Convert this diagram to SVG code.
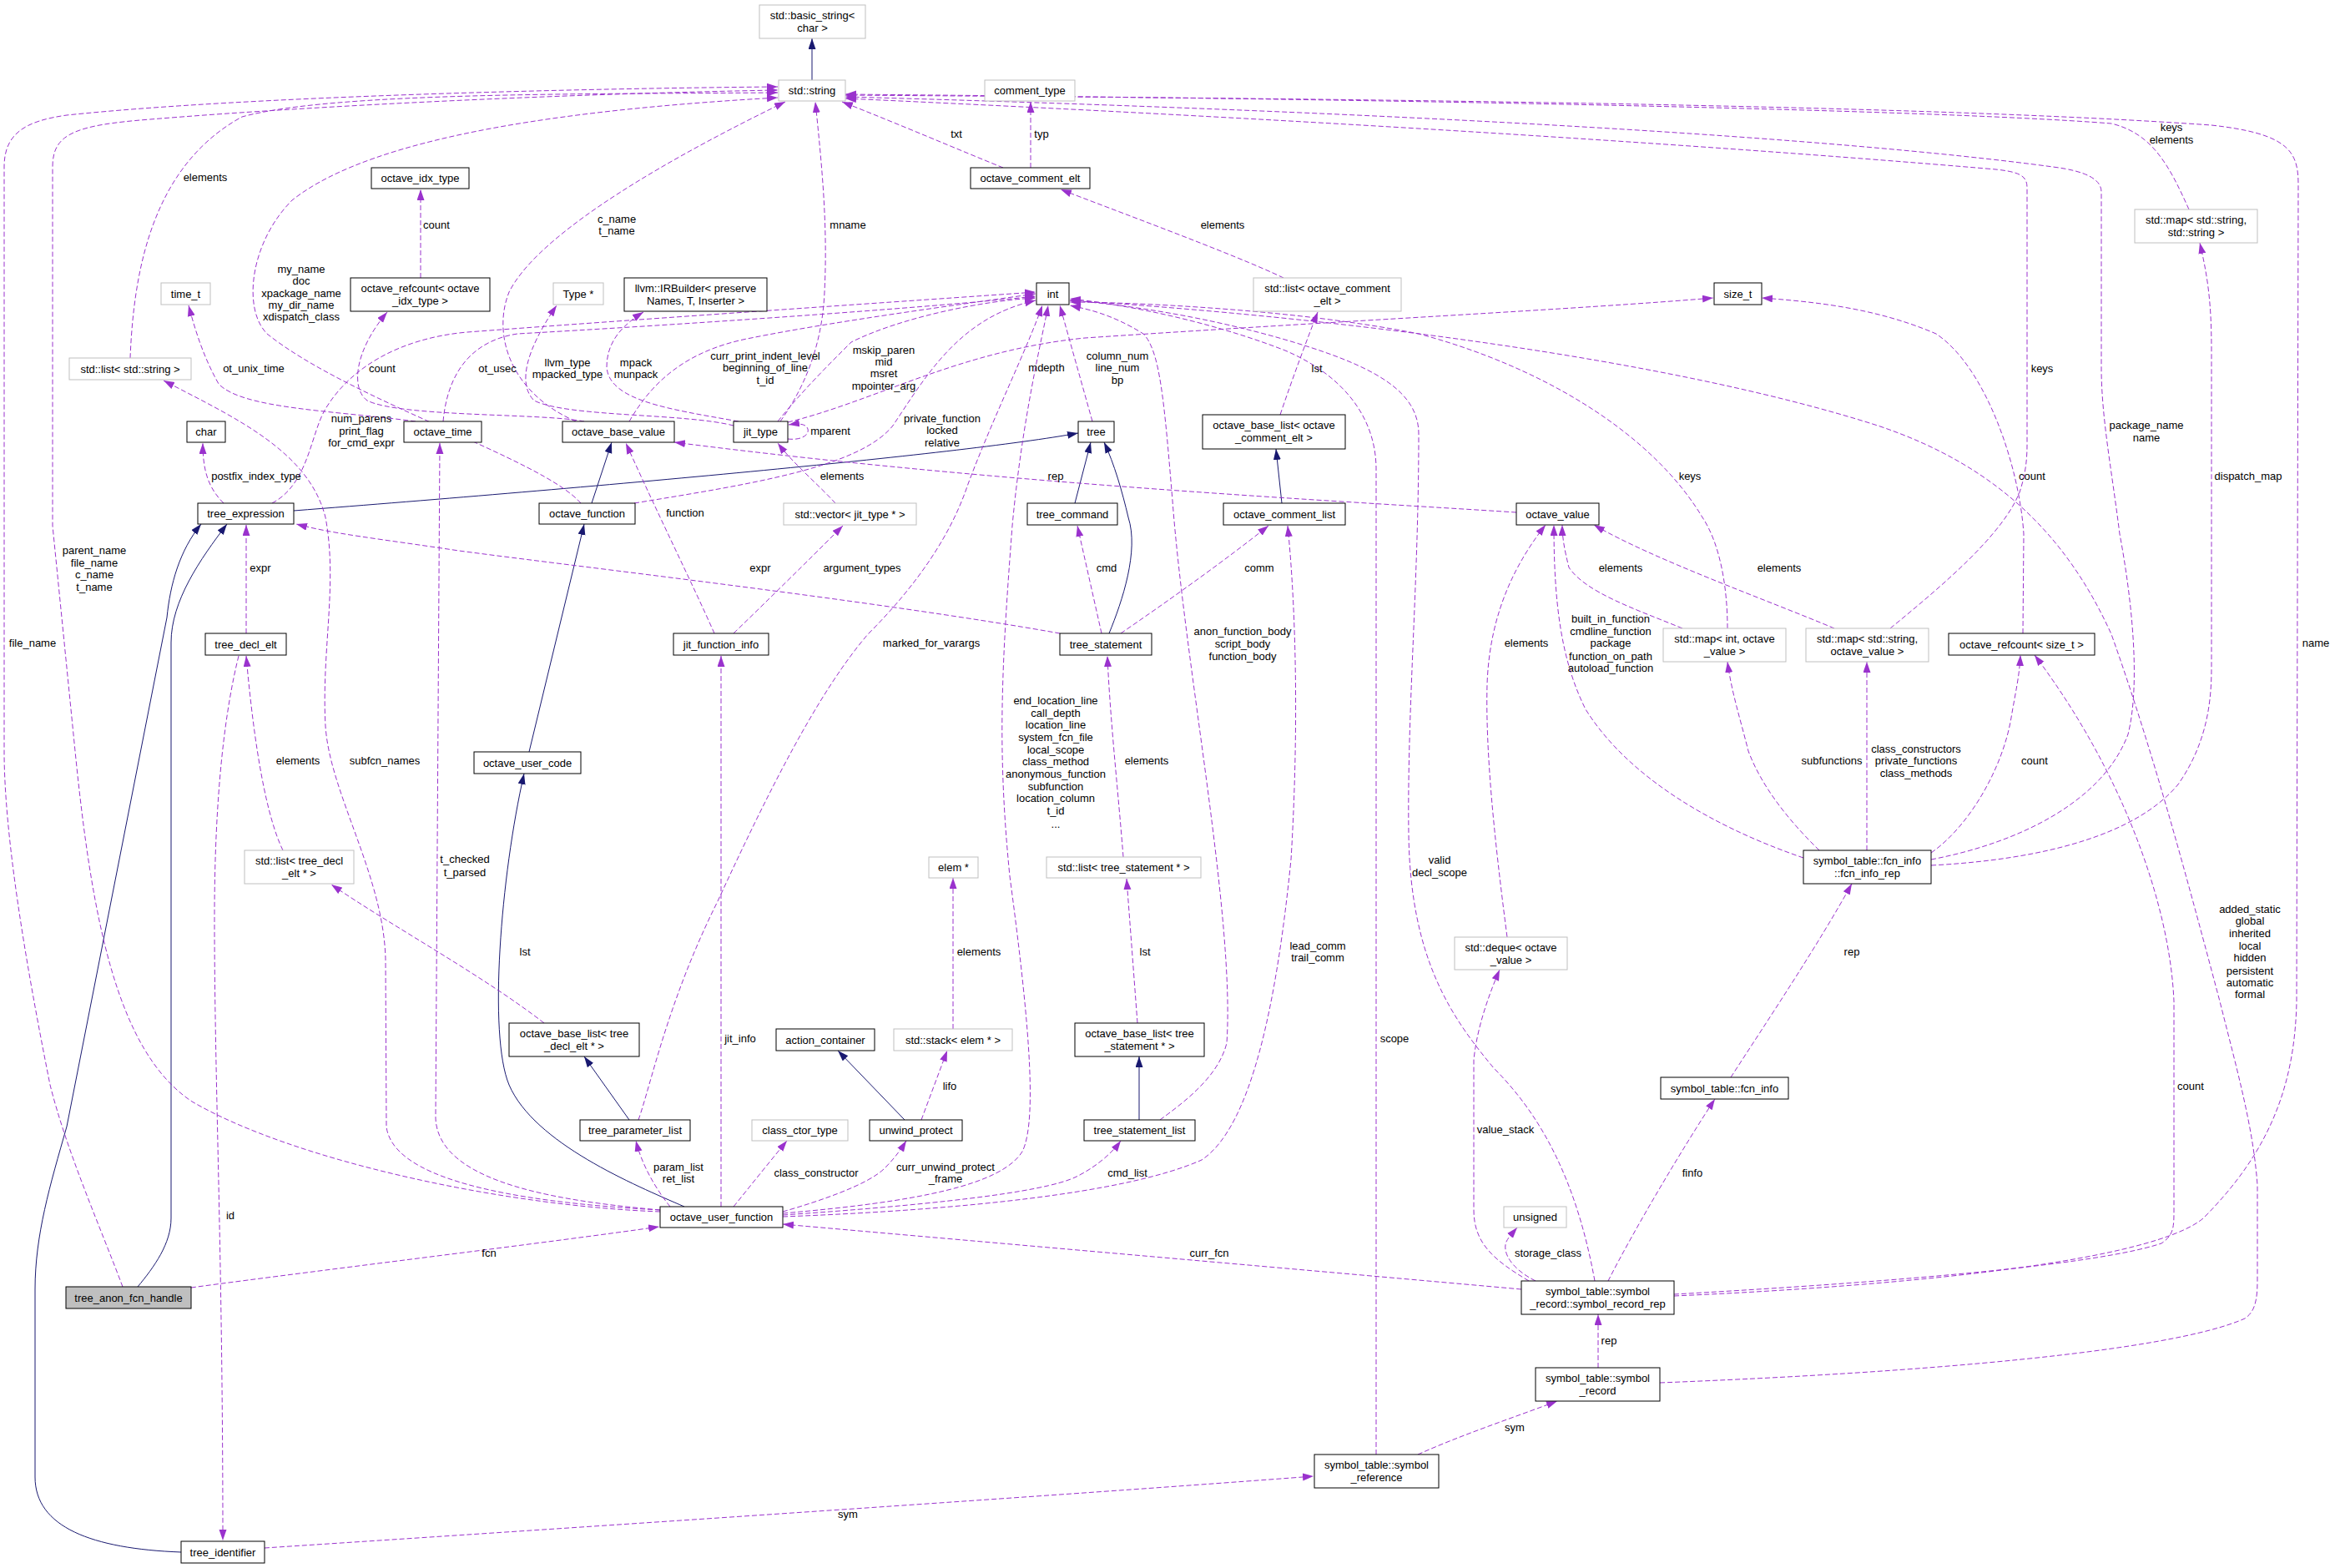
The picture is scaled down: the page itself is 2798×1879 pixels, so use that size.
<svg xmlns="http://www.w3.org/2000/svg" width="2798" height="1879" viewBox="0 0 2798 1879">
<style>
.node rect{fill:#fff;stroke:#000;stroke-width:1}
.node.u rect{stroke:#bfbfbf}
.node.h rect{fill:#bfbfbf}
text{font-family:"Liberation Sans",Arial,sans-serif;font-size:13px;fill:#000}
.node text{text-anchor:middle}
.lbl text{text-anchor:middle}
.i{fill:none;stroke:#191970;stroke-width:1}
.d{fill:none;stroke:#9a32cd;stroke-width:1;stroke-dasharray:6,3}
</style>
<defs>
<marker id="an" markerUnits="userSpaceOnUse" markerWidth="14" markerHeight="10" refX="13" refY="4.5" orient="auto"><path d="M0,0 L13,4.5 L0,9 z" fill="#191970"/></marker>
<marker id="ap" markerUnits="userSpaceOnUse" markerWidth="14" markerHeight="10" refX="13" refY="4.5" orient="auto"><path d="M0,0 L13,4.5 L0,9 z" fill="#9a32cd"/></marker>
</defs>
<rect width="2798" height="1879" fill="#fff"/>
<g id="edges">
<g marker-end="url(#an)">
<path class="i" d="M973,96 L973,46"/>
<path class="i" d="M352,612 C700,585 1150,545 1292,519"/>
<path class="i" d="M709,603 L733,530"/>
<path class="i" d="M634,901 L700,628"/>
<path class="i" d="M820,1446 C760,1420 640,1370 610,1300 C585,1240 600,1050 628,927"/>
<path class="i" d="M1288,603 L1307,530"/>
<path class="i" d="M1329,759 C1345,720 1365,660 1352,620 C1345,590 1335,555 1323,530"/>
<path class="i" d="M1536,603 L1529,538"/>
<path class="i" d="M754,1342 L700,1266"/>
<path class="i" d="M1084,1342 L1004,1259"/>
<path class="i" d="M1365,1342 L1365,1266"/>
<path class="i" d="M165,1542 C185,1518 205,1490 205,1460 L205,770 C205,720 240,670 272,628"/>
<path class="i" d="M217,1860 C110,1856 42,1830 42,1770 L42,1545 C42,1480 60,1420 80,1350 L200,740 C204,700 215,660 241,628"/>
</g>
<g marker-end="url(#ap)">
<path class="d" d="M156,429 C160,330 180,200 290,140 C400,110 700,113 932,111"/>
<path class="d" d="M696,603 C650,550 420,480 320,400 C290,370 300,290 350,240 C450,160 700,130 932,117"/>
<path class="d" d="M791,1452 C600,1445 350,1390 230,1320 C140,1260 110,1100 90,900 L63,630 L63,200 C63,160 90,150 180,143 C400,125 700,112 932,108"/>
<path class="d" d="M147,1542 C120,1470 80,1380 60,1300 C30,1150 5,1000 5,900 L5,200 C5,160 30,145 80,138 C300,115 700,106 932,104"/>
<path class="d" d="M690,505 C610,470 590,400 610,350 C640,290 760,210 941,122"/>
<path class="d" d="M935,505 C960,470 985,420 988,350 C992,270 985,200 977,122"/>
<path class="d" d="M1202,201 C1150,180 1080,150 1009,122"/>
<path class="d" d="M1235,201 L1235,122"/>
<path class="d" d="M1538,333 C1480,305 1330,250 1271,227"/>
<path class="d" d="M1534,497 C1550,450 1565,410 1579,374"/>
<path class="d" d="M504,333 L504,227"/>
<path class="d" d="M700,505 C650,495 480,500 440,480 C420,465 425,420 464,374"/>
<path class="d" d="M498,505 C400,492 290,490 262,460 C245,430 235,400 226,366"/>
<path class="d" d="M531,505 C535,460 555,410 620,400 C800,390 1100,370 1241,355"/>
<path class="d" d="M791,1450 C680,1440 525,1420 522,1340 L527,531"/>
<path class="d" d="M268,603 C250,585 243,565 243,531"/>
<path class="d" d="M326,603 C370,580 372,520 390,490 C420,440 480,405 560,398 C800,380 1100,360 1241,350"/>
<path class="d" d="M879,510 C820,495 680,500 640,480 C620,460 630,420 667,366"/>
<path class="d" d="M885,505 C800,490 730,480 727,440 C727,410 745,390 771,374"/>
<path class="d" d="M754,505 C780,460 820,420 900,405 C1000,385 1150,365 1241,352"/>
<path class="d" d="M932,505 C960,470 990,440 1020,410 C1080,380 1180,360 1241,357"/>
<path class="d" d="M944,526 C962,528 970,520 968,514 C966,508 958,507 945,509"/>
<path class="d" d="M1001,603 C980,580 950,555 932,531"/>
<path class="d" d="M856,759 C830,700 790,620 750,531"/>
<path class="d" d="M879,759 C940,700 990,650 1010,630"/>
<path class="d" d="M1270,759 C1050,720 700,680 550,660 C450,645 400,640 355,628"/>
<path class="d" d="M760,603 C900,580 1030,560 1070,510 C1110,450 1150,380 1241,360"/>
<path class="d" d="M1817,614 C1600,600 1200,580 808,530"/>
<path class="d" d="M1309,505 L1270,366"/>
<path class="d" d="M944,506 C1050,480 1150,420 1300,405 C1600,385 1900,370 2053,357"/>
<path class="d" d="M1320,759 L1291,630"/>
<path class="d" d="M1343,759 C1400,720 1470,670 1520,630"/>
<path class="d" d="M1346,1027 C1340,950 1330,860 1327,786"/>
<path class="d" d="M1363,1226 L1350,1053"/>
<path class="d" d="M1390,1342 C1420,1320 1460,1290 1470,1250 C1480,1100 1420,800 1405,600 C1395,480 1390,420 1370,400 C1330,375 1300,370 1282,366"/>
<path class="d" d="M938,1458 C1150,1450 1350,1430 1440,1390 C1500,1350 1530,1200 1547,1030 C1555,900 1555,750 1543,630"/>
<path class="d" d="M652,1226 C580,1170 470,1110 397,1060"/>
<path class="d" d="M339,1019 C320,980 305,900 295,786"/>
<path class="d" d="M295,759 L295,629"/>
<path class="d" d="M286,786 C270,850 257,950 257,1100 C257,1300 267,1500 267,1846"/>
<path class="d" d="M791,1450 C600,1440 470,1410 463,1350 L462,1150 C460,1050 395,950 390,870 C385,780 405,700 390,620 C370,540 280,500 196,456"/>
<path class="d" d="M229,1543 C400,1520 650,1490 790,1470"/>
<path class="d" d="M864,1446 L864,786"/>
<path class="d" d="M803,1446 C790,1430 770,1400 762,1367"/>
<path class="d" d="M879,1446 C900,1420 920,1395 943,1367"/>
<path class="d" d="M938,1452 C980,1440 1040,1420 1060,1400 C1070,1390 1078,1380 1086,1367"/>
<path class="d" d="M1104,1342 L1135,1259"/>
<path class="d" d="M1142,1233 L1142,1052"/>
<path class="d" d="M938,1454 C1100,1440 1200,1420 1225,1380 C1245,1340 1230,1200 1210,1050 C1195,900 1200,800 1213,630 C1225,500 1250,400 1256,366"/>
<path class="d" d="M938,1456 C1100,1445 1250,1430 1290,1410 C1310,1400 1330,1385 1343,1367"/>
<path class="d" d="M765,1342 C780,1300 800,1200 860,1080 C920,950 980,830 1040,760 C1100,700 1140,640 1160,580 C1190,500 1230,420 1249,366"/>
<path class="d" d="M1823,1545 C1600,1525 1200,1490 938,1467"/>
<path class="d" d="M1832,1535 C1790,1510 1766,1490 1766,1450 L1766,1270 C1770,1230 1785,1190 1797,1162"/>
<path class="d" d="M1806,1123 C1790,1000 1780,900 1782,820 C1785,730 1820,670 1852,629"/>
<path class="d" d="M1840,1535 C1810,1520 1800,1500 1805,1488 C1808,1482 1812,1478 1818,1471"/>
<path class="d" d="M1911,1535 C1890,1420 1850,1340 1790,1280 C1740,1220 1690,1150 1688,1000 C1686,850 1700,700 1700,520 C1700,470 1650,440 1550,410 C1450,380 1350,365 1282,360"/>
<path class="d" d="M1649,1743 L1649,560 C1648,500 1610,450 1540,420 C1450,385 1350,365 1282,358"/>
<path class="d" d="M1927,1535 C1960,1470 2020,1370 2055,1317"/>
<path class="d" d="M2074,1291 C2120,1220 2180,1130 2219,1059"/>
<path class="d" d="M1915,1639 L1915,1575"/>
<path class="d" d="M1699,1743 C1750,1720 1810,1700 1866,1679"/>
<path class="d" d="M317,1855 C700,1830 1300,1790 1574,1769"/>
<path class="d" d="M2070,753 C2070,700 2060,650 2040,620 C1980,520 1850,440 1700,400 C1550,370 1350,362 1282,362"/>
<path class="d" d="M2016,753 C1960,730 1900,710 1880,680 C1875,660 1872,645 1872,629"/>
<path class="d" d="M2198,753 C2120,720 1980,670 1910,629"/>
<path class="d" d="M2265,753 C2330,700 2400,640 2420,590 C2430,560 2429,540 2429,520 L2429,225 C2429,210 2420,205 2380,202 C2000,170 1500,140 1013,118"/>
<path class="d" d="M2424,759 L2425,640 C2420,560 2380,440 2320,400 C2250,370 2180,362 2111,357"/>
<path class="d" d="M2314,1022 C2360,990 2400,920 2410,860 C2415,830 2420,810 2421,785"/>
<path class="d" d="M2006,1551 C2200,1540 2500,1520 2590,1490 C2605,1480 2605,1470 2605,1450 L2605,1200 C2600,1080 2540,920 2438,785"/>
<path class="d" d="M2006,1553 C2300,1540 2580,1510 2640,1460 C2720,1380 2750,1300 2752,1200 L2754,220 C2754,180 2740,160 2650,150 C2300,125 1600,118 1013,114"/>
<path class="d" d="M2314,1030 C2420,1010 2520,960 2550,880 C2565,820 2555,720 2540,640 C2530,560 2518,500 2518,440 L2518,230 C2518,215 2500,205 2460,200 C2200,165 1700,135 1013,116"/>
<path class="d" d="M2314,1037 C2450,1030 2560,1000 2610,940 C2645,890 2650,840 2650,800 L2650,420 C2650,360 2645,330 2636,291"/>
<path class="d" d="M2623,251 C2600,200 2580,160 2530,148 C2300,130 1600,118 1013,113"/>
<path class="d" d="M2180,1019 C2140,980 2110,940 2095,900 C2085,860 2075,830 2070,793"/>
<path class="d" d="M2237,1019 L2237,793"/>
<path class="d" d="M2161,1028 C2050,990 1950,930 1900,850 C1870,790 1862,720 1862,629"/>
<path class="d" d="M1989,1657 C2300,1645 2600,1620 2690,1580 C2705,1570 2705,1550 2705,1530 L2705,1420 C2700,1350 2680,1280 2660,1200 C2620,1050 2580,900 2530,760 C2480,650 2400,560 2250,510 C2000,430 1600,380 1282,360"/>
</g>
<g class="lbl">
<text x="246" y="217">elements</text>
<text x="361" y="327">my_name</text><text x="361" y="341">doc</text><text x="361" y="356">xpackage_name</text><text x="361" y="370">my_dir_name</text><text x="361" y="384">xdispatch_class</text>
<text x="113" y="664">parent_name</text><text x="113" y="679">file_name</text><text x="113" y="693">c_name</text><text x="113" y="708">t_name</text>
<text x="39" y="775">file_name</text>
<text x="739" y="267">c_name</text><text x="739" y="281">t_name</text>
<text x="1016" y="274">mname</text>
<text x="1146" y="165">txt</text>
<text x="1248" y="165">typ</text>
<text x="1465" y="274">elements</text>
<text x="1578" y="446">lst</text>
<text x="523" y="274">count</text>
<text x="458" y="446">count</text>
<text x="304" y="446">ot_unix_time</text>
<text x="596" y="446">ot_usec</text>
<text x="557" y="1034">t_checked</text><text x="557" y="1050">t_parsed</text>
<text x="307" y="575">postfix_index_type</text>
<text x="433" y="506">num_parens</text><text x="433" y="521">print_flag</text><text x="433" y="535">for_cmd_expr</text>
<text x="680" y="439">llvm_type</text><text x="680" y="453">mpacked_type</text>
<text x="762" y="439">mpack</text><text x="762" y="453">munpack</text>
<text x="917" y="431">curr_print_indent_level</text><text x="917" y="445">beginning_of_line</text><text x="917" y="460">t_id</text>
<text x="1059" y="424">mskip_paren</text><text x="1059" y="438">mid</text><text x="1059" y="452">msret</text><text x="1059" y="467">mpointer_arg</text>
<text x="995" y="521">mparent</text>
<text x="1009" y="575">elements</text>
<text x="821" y="619">function</text>
<text x="1033" y="685">argument_types</text>
<text x="911" y="685">expr</text>
<text x="1129" y="506">private_function</text><text x="1129" y="520">locked</text><text x="1129" y="535">relative</text>
<text x="1265" y="575">rep</text>
<text x="1339" y="431">column_num</text><text x="1339" y="445">line_num</text><text x="1339" y="460">bp</text>
<text x="1254" y="445">mdepth</text>
<text x="1326" y="685">cmd</text>
<text x="1509" y="685">comm</text>
<text x="1374" y="916">elements</text>
<text x="1372" y="1145">lst</text>
<text x="1489" y="761">anon_function_body</text><text x="1489" y="776">script_body</text><text x="1489" y="791">function_body</text>
<text x="1579" y="1138">lead_comm</text><text x="1579" y="1152">trail_comm</text>
<text x="629" y="1145">lst</text>
<text x="357" y="916">elements</text>
<text x="312" y="685">expr</text>
<text x="276" y="1461">id</text>
<text x="461" y="916">subfcn_names</text>
<text x="586" y="1506">fcn</text>
<text x="887" y="1249">jit_info</text>
<text x="813" y="1403">param_list</text><text x="813" y="1417">ret_list</text>
<text x="978" y="1410">class_constructor</text>
<text x="1133" y="1403">curr_unwind_protect</text><text x="1133" y="1417">_frame</text>
<text x="1138" y="1306">lifo</text>
<text x="1173" y="1145">elements</text>
<text x="1265" y="844">end_location_line</text><text x="1265" y="859">call_depth</text><text x="1265" y="873">location_line</text><text x="1265" y="888">system_fcn_file</text><text x="1265" y="903">local_scope</text><text x="1265" y="917">class_method</text><text x="1265" y="932">anonymous_function</text><text x="1265" y="947">subfunction</text><text x="1265" y="961">location_column</text><text x="1265" y="976">t_id</text><text x="1265" y="992">...</text>
<text x="1351" y="1410">cmd_list</text>
<text x="1116" y="775">marked_for_varargs</text>
<text x="1449" y="1506">curr_fcn</text>
<text x="1804" y="1358">value_stack</text>
<text x="1829" y="775">elements</text>
<text x="1855" y="1506">storage_class</text>
<text x="1725" y="1035">valid</text><text x="1725" y="1050">decl_scope</text>
<text x="1671" y="1249">scope</text>
<text x="2028" y="1410">finfo</text>
<text x="2219" y="1145">rep</text>
<text x="1928" y="1611">rep</text>
<text x="1815" y="1715">sym</text>
<text x="1016" y="1819">sym</text>
<text x="2025" y="575">keys</text>
<text x="1942" y="685">elements</text>
<text x="2132" y="685">elements</text>
<text x="2447" y="446">keys</text>
<text x="2435" y="575">count</text>
<text x="2438" y="916">count</text>
<text x="2625" y="1306">count</text>
<text x="2775" y="775">name</text>
<text x="2572" y="514">package_name</text><text x="2572" y="529">name</text>
<text x="2694" y="575">dispatch_map</text>
<text x="2602" y="157">keys</text><text x="2602" y="172">elements</text>
<text x="2195" y="916">subfunctions</text>
<text x="2296" y="902">class_constructors</text><text x="2296" y="916">private_functions</text><text x="2296" y="931">class_methods</text>
<text x="1930" y="746">built_in_function</text><text x="1930" y="761">cmdline_function</text><text x="1930" y="775">package</text><text x="1930" y="791">function_on_path</text><text x="1930" y="805">autoload_function</text>
<text x="2696" y="1094">added_static</text><text x="2696" y="1108">global</text><text x="2696" y="1123">inherited</text><text x="2696" y="1138">local</text><text x="2696" y="1152">hidden</text><text x="2696" y="1168">persistent</text><text x="2696" y="1182">automatic</text><text x="2696" y="1196">formal</text>
</g>
</g>
<g id="nodes">
<g id="n_basic_string" class="node u"><rect x="910" y="6" width="127" height="40"/><text x="973.5" y="22.5">std::basic_string&lt;</text><text x="973.5" y="37.5">char &gt;</text></g>
<g id="n_std_string" class="node u"><rect x="933" y="96" width="80" height="25"/><text x="973" y="113">std::string</text></g>
<g id="n_comment_type" class="node u"><rect x="1180" y="96" width="108" height="25"/><text x="1234" y="113">comment_type</text></g>
<g id="n_octave_idx_type" class="node"><rect x="445" y="201" width="117" height="25"/><text x="503.5" y="218">octave_idx_type</text></g>
<g id="n_octave_comment_elt" class="node"><rect x="1163" y="201" width="143" height="25"/><text x="1234.5" y="218">octave_comment_elt</text></g>
<g id="n_map_ss" class="node u"><rect x="2558" y="251" width="147" height="40"/><text x="2631.5" y="267.5">std::map&lt; std::string,</text><text x="2631.5" y="282.5">std::string &gt;</text></g>
<g id="n_refcount_idx" class="node"><rect x="420" y="333" width="167" height="40"/><text x="503.5" y="349.5">octave_refcount&lt; octave</text><text x="503.5" y="364.5">_idx_type &gt;</text></g>
<g id="n_time_t" class="node u"><rect x="193" y="339" width="59" height="26"/><text x="222.5" y="356.5">time_t</text></g>
<g id="n_type_ptr" class="node u"><rect x="663" y="339" width="60" height="26"/><text x="693" y="356.5">Type *</text></g>
<g id="n_irbuilder" class="node"><rect x="748" y="333" width="171" height="40"/><text x="833.5" y="349.5">llvm::IRBuilder&lt; preserve</text><text x="833.5" y="364.5">Names, T, Inserter &gt;</text></g>
<g id="n_int" class="node"><rect x="1242" y="339" width="39" height="26"/><text x="1261.5" y="356.5">int</text></g>
<g id="n_list_comment" class="node u"><rect x="1502" y="333" width="177" height="40"/><text x="1590.5" y="349.5">std::list&lt; octave_comment</text><text x="1590.5" y="364.5">_elt &gt;</text></g>
<g id="n_size_t" class="node"><rect x="2054" y="339" width="57" height="26"/><text x="2082.5" y="356.5">size_t</text></g>
<g id="n_list_string" class="node u"><rect x="83" y="429" width="146" height="26"/><text x="156" y="446.5">std::list&lt; std::string &gt;</text></g>
<g id="n_char" class="node"><rect x="224" y="505" width="46" height="25"/><text x="247" y="522">char</text></g>
<g id="n_octave_time" class="node"><rect x="484" y="505" width="93" height="25"/><text x="530.5" y="522">octave_time</text></g>
<g id="n_octave_base_value" class="node"><rect x="674" y="505" width="134" height="25"/><text x="741" y="522">octave_base_value</text></g>
<g id="n_jit_type" class="node"><rect x="879" y="505" width="65" height="25"/><text x="911.5" y="522">jit_type</text></g>
<g id="n_tree" class="node"><rect x="1292" y="505" width="43" height="25"/><text x="1313.5" y="522">tree</text></g>
<g id="n_base_list_comment" class="node"><rect x="1441" y="497" width="171" height="41"/><text x="1526.5" y="513.5">octave_base_list&lt; octave</text><text x="1526.5" y="528.5">_comment_elt &gt;</text></g>
<g id="n_tree_expression" class="node"><rect x="237" y="603" width="115" height="25"/><text x="294.5" y="620">tree_expression</text></g>
<g id="n_octave_function" class="node"><rect x="646" y="603" width="115" height="25"/><text x="703.5" y="620">octave_function</text></g>
<g id="n_vector_jit" class="node u"><rect x="939" y="603" width="159" height="26"/><text x="1018.5" y="620.5">std::vector&lt; jit_type * &gt;</text></g>
<g id="n_tree_command" class="node"><rect x="1231" y="603" width="108" height="26"/><text x="1285" y="620.5">tree_command</text></g>
<g id="n_octave_comment_list" class="node"><rect x="1466" y="603" width="146" height="26"/><text x="1539" y="620.5">octave_comment_list</text></g>
<g id="n_octave_value" class="node"><rect x="1817" y="603" width="99" height="26"/><text x="1866.5" y="620.5">octave_value</text></g>
<g id="n_map_int_ov" class="node u"><rect x="1993" y="753" width="147" height="40"/><text x="2066.5" y="769.5">std::map&lt; int, octave</text><text x="2066.5" y="784.5">_value &gt;</text></g>
<g id="n_map_s_ov" class="node u"><rect x="2164" y="753" width="147" height="40"/><text x="2237.5" y="769.5">std::map&lt; std::string,</text><text x="2237.5" y="784.5">octave_value &gt;</text></g>
<g id="n_refcount_size_t" class="node"><rect x="2335" y="759" width="175" height="26"/><text x="2422.5" y="776.5">octave_refcount&lt; size_t &gt;</text></g>
<g id="n_tree_decl_elt" class="node"><rect x="246" y="759" width="97" height="26"/><text x="294.5" y="776.5">tree_decl_elt</text></g>
<g id="n_jit_function_info" class="node"><rect x="807" y="759" width="114" height="26"/><text x="864" y="776.5">jit_function_info</text></g>
<g id="n_tree_statement" class="node"><rect x="1270" y="759" width="110" height="26"/><text x="1325" y="776.5">tree_statement</text></g>
<g id="n_octave_user_code" class="node"><rect x="568" y="901" width="128" height="26"/><text x="632" y="918.5">octave_user_code</text></g>
<g id="n_list_decl" class="node u"><rect x="293" y="1019" width="131" height="40"/><text x="358.5" y="1035.5">std::list&lt; tree_decl</text><text x="358.5" y="1050.5">_elt * &gt;</text></g>
<g id="n_fcn_info_rep" class="node"><rect x="2161" y="1019" width="153" height="40"/><text x="2237.5" y="1035.5">symbol_table::fcn_info</text><text x="2237.5" y="1050.5">::fcn_info_rep</text></g>
<g id="n_elem_ptr" class="node u"><rect x="1113" y="1027" width="59" height="25"/><text x="1142.5" y="1044">elem *</text></g>
<g id="n_list_stmt" class="node u"><rect x="1254" y="1027" width="185" height="25"/><text x="1346.5" y="1044">std::list&lt; tree_statement * &gt;</text></g>
<g id="n_deque" class="node u"><rect x="1743" y="1123" width="135" height="39"/><text x="1810.5" y="1139.5">std::deque&lt; octave</text><text x="1810.5" y="1154.5">_value &gt;</text></g>
<g id="n_base_list_decl" class="node"><rect x="610" y="1226" width="156" height="40"/><text x="688" y="1242.5">octave_base_list&lt; tree</text><text x="688" y="1257.5">_decl_elt * &gt;</text></g>
<g id="n_action_container" class="node"><rect x="930" y="1233" width="118" height="26"/><text x="989" y="1250.5">action_container</text></g>
<g id="n_stack" class="node u"><rect x="1071" y="1233" width="142" height="26"/><text x="1142" y="1250.5">std::stack&lt; elem * &gt;</text></g>
<g id="n_base_list_stmt" class="node"><rect x="1288" y="1226" width="155" height="40"/><text x="1365.5" y="1242.5">octave_base_list&lt; tree</text><text x="1365.5" y="1257.5">_statement * &gt;</text></g>
<g id="n_fcn_info" class="node"><rect x="1990" y="1291" width="153" height="26"/><text x="2066.5" y="1308.5">symbol_table::fcn_info</text></g>
<g id="n_tree_parameter_list" class="node"><rect x="695" y="1342" width="132" height="25"/><text x="761" y="1359">tree_parameter_list</text></g>
<g id="n_class_ctor_type" class="node u"><rect x="901" y="1342" width="115" height="25"/><text x="958.5" y="1359">class_ctor_type</text></g>
<g id="n_unwind_protect" class="node"><rect x="1042" y="1342" width="111" height="25"/><text x="1097.5" y="1359">unwind_protect</text></g>
<g id="n_tree_statement_list" class="node"><rect x="1299" y="1342" width="133" height="25"/><text x="1365.5" y="1359">tree_statement_list</text></g>
<g id="n_octave_user_function" class="node"><rect x="791" y="1446" width="147" height="25"/><text x="864.5" y="1463">octave_user_function</text></g>
<g id="n_unsigned" class="node u"><rect x="1802" y="1446" width="75" height="25"/><text x="1839.5" y="1463">unsigned</text></g>
<g id="n_symbol_record_rep" class="node"><rect x="1823" y="1535" width="183" height="40"/><text x="1914.5" y="1551.5">symbol_table::symbol</text><text x="1914.5" y="1566.5">_record::symbol_record_rep</text></g>
<g id="n_tree_anon_fcn_handle" class="node h"><rect x="79" y="1542" width="150" height="26"/><text x="154" y="1559.5">tree_anon_fcn_handle</text></g>
<g id="n_symbol_record" class="node"><rect x="1840" y="1639" width="149" height="40"/><text x="1914.5" y="1655.5">symbol_table::symbol</text><text x="1914.5" y="1670.5">_record</text></g>
<g id="n_symbol_reference" class="node"><rect x="1575" y="1743" width="149" height="40"/><text x="1649.5" y="1759.5">symbol_table::symbol</text><text x="1649.5" y="1774.5">_reference</text></g>
<g id="n_tree_identifier" class="node"><rect x="217" y="1847" width="100" height="26"/><text x="267" y="1864.5">tree_identifier</text></g>
</g>
</svg>
